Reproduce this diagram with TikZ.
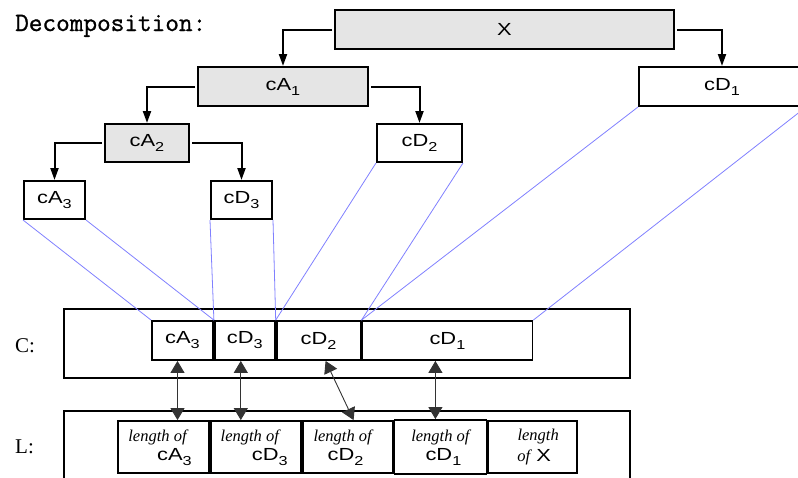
\documentclass[tikz,border=0pt]{standalone}
\usepackage{fontspec}
\setmainfont{Liberation Serif}
\setsansfont[FakeStretch=1.25]{Liberation Sans}
\newfontfamily\titlefont[FakeBold=1]{Latin Modern Mono}
\usetikzlibrary{arrows.meta, positioning, calc}
\definecolor{mapblue}{RGB}{128,128,255}
\newcommand{\subidx}[1]{\raisebox{-5pt}{\fontsize{13}{13}\selectfont #1}}

\begin{document}
\begin{tikzpicture}[
    x=1pt, y=-1pt,
    coef/.style={rectangle, draw, line width=2pt, inner sep=0pt, font=\sffamily\fontsize{17.5}{20}\selectfont},
    approx/.style={coef, fill=black!10},
    cell/.style={coef, line width=1.8pt},
    frame/.style={rectangle, draw, line width=2pt, inner sep=0pt},
    lenof/.style={inner sep=0pt, font=\itshape\fontsize{16.5}{18}\selectfont},
    lensym/.style={inner sep=0pt, font=\sffamily\fontsize{17.5}{20}\selectfont},
    arrow/.style={-{Triangle[length=12pt, width=8pt]}, line width=2pt, shorten <=2pt},
    darrow/.style={{Triangle[length=12pt, width=14pt]}-{Triangle[length=12pt, width=14pt]}, line width=0.9pt, black!80},
    map/.style={line width=0.8pt, mapblue}
  ]
    \useasboundingbox (0,0) rectangle (798,477);

    % decomposition tree
    \node[inner sep=0pt, anchor=base west, font=\titlefont\fontsize{26.5}{28}\selectfont] (title) at (15,31) {Decomposition:};
    \node[approx, minimum width=339pt, minimum height=39pt] (X) at (504.5,29.5) {X};
    \node[approx, minimum width=170pt, minimum height=39pt] (cA1) at (283,86.5) {cA\subidx{1}};
    \node[coef, minimum width=166pt, minimum height=39pt] (cD1) at (722,86.5) {cD\subidx{1}};
    \node[approx, minimum width=84pt, minimum height=38pt] (cA2) at (147,143) {cA\subidx{2}};
    \node[coef, minimum width=85pt, minimum height=38pt] (cD2) at (419.5,143) {cD\subidx{2}};
    \node[coef, minimum width=61pt, minimum height=38pt] (cA3) at (54.5,200) {cA\subidx{3}};
    \node[coef, minimum width=61pt, minimum height=38pt] (cD3) at (241.5,200) {cD\subidx{3}};

    \draw[arrow] (X.west) -| (cA1.north);
    \draw[arrow] (X.east) -| (cD1.north);
    \draw[arrow] (cA1.west) -| (cA2.north);
    \draw[arrow] (cA1.east) -| (cD2.north);
    \draw[arrow] (cA2.west) -| (cA3.north);
    \draw[arrow] (cA2.east) -| (cD3.north);

    % C vector
    \node[inner sep=0pt, anchor=base west, font=\fontsize{21}{22}\selectfont] (Clab) at (15,352) {C:};
    \node[frame, minimum width=566pt, minimum height=69pt] (Cfr) at (347,343.5) {};
    \node[cell, minimum width=61pt, minimum height=39pt] (cA3c) at (182.5,340.5) {cA\subidx{3}};
    \node[cell, minimum width=60pt, minimum height=39pt, right=0pt of cA3c] (cD3c) {cD\subidx{3}};
    \node[cell, minimum width=84pt, minimum height=39pt, right=0pt of cD3c] (cD2c) {cD\subidx{2}};
    \node[cell, minimum width=170pt, minimum height=39pt, right=0pt of cD2c] (cD1c) {cD\subidx{1}};

    \foreach \a/\b in {cA3/cA3c, cD3/cD3c, cD2/cD2c, cD1/cD1c}{
      \draw[map] (\a.south west) -- (\b.north west);
      \draw[map] (\a.south east) -- (\b.north east);
    }

    % L vector
    \node[inner sep=0pt, anchor=base west, font=\fontsize{21}{22}\selectfont] (Llab) at (15,453) {L:};
    \node[frame, minimum width=566pt, minimum height=89pt] (Lfr) at (347,455.5) {};
    \node[cell, minimum width=91pt, minimum height=52pt] (lA3) at (163.5,447) {};
    \node[cell, minimum width=90pt, minimum height=52pt, right=0pt of lA3] (lD3) {};
    \node[cell, minimum width=90pt, minimum height=52pt, right=0pt of lD3] (lD2) {};
    \node[cell, minimum width=92pt, minimum height=54pt, right=0pt of lD2] (lD1) {};
    \node[cell, minimum width=89pt, minimum height=52pt, right=0pt of lD1] (lX) {};

    \foreach \n/\lab/\a/\b in {lA3/cA\subidx{3}/-6/11, lD3/cD\subidx{3}/-6/14, lD2/cD\subidx{2}/-5/-2, lD1/cD\subidx{1}/0/3}{
      \node[lenof] (\n-top) at ([xshift=\a pt, yshift=10pt]\n.center) {length of};
      \node[lensym] (\n-bot) at ([xshift=\b pt, yshift=-10pt]\n.center) {\lab};
    }
    \node[lenof] (lX-top) at ([xshift=5.5pt, yshift=10pt]lX.center) {length};
    \node[lensym] (lX-bot) at ([xshift=1.5pt, yshift=-10pt]lX.center) {{\rmfamily\itshape\fontsize{16.5}{18}\selectfont of} X};

    \draw[darrow] ([xshift=-5pt]cA3c.south) -- ([xshift=-5pt]cA3c.south |- lA3.north);
    \draw[darrow] ([xshift=-4pt]cD3c.south) -- ([xshift=-4pt]cD3c.south |- lD3.north);
    \draw[darrow] ([xshift=7pt]cD2c.south) -- ([xshift=6pt]lD2.north);
    \draw[darrow] ([xshift=-12pt]cD1c.south) -- ([xshift=-12pt]cD1c.south |- lD1.north);

  \end{tikzpicture}
\end{document}
